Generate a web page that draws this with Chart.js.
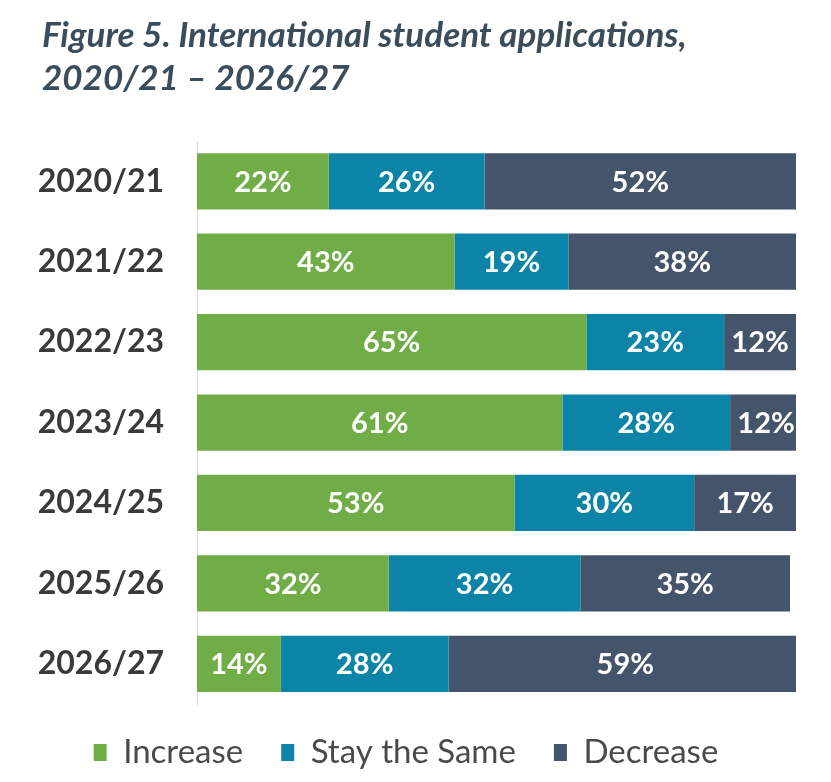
<!DOCTYPE html>
<html>
<head>
<meta charset="utf-8">
<script src="https://cdn.jsdelivr.net/npm/chart.js@4.4.1/dist/chart.umd.min.js"></script>
<style>
  html, body { margin: 0; padding: 0; background: #fff; }
  #wrap { width: 831px; height: 782px; }
</style>
</head>
<body>
<div id="wrap"><canvas id="appsChart"></canvas></div>
<script>
// academic years, top to bottom
const years = ['2020/21', '2021/22', '2022/23', '2023/24', '2024/25', '2025/26', '2026/27'];

// share of respondents (%)
const increase = [22, 43, 65, 61, 53, 32, 14];
const staySame = [26, 19, 23, 28, 30, 32, 28];
const decrease = [52, 38, 12, 12, 17, 35, 59];

const seriesNames = ['Increase', 'Stay the Same', 'Decrease'];
const seriesColors = ['#70ad47', '#0b84a8', '#44546a'];

const FONT = 'Lato, "Open Sans", sans-serif';

// white % labels in the middle of each segment
const barLabels = {
    id: 'barLabels',
    afterDatasetsDraw(chart) {
        const ctx = chart.ctx;
        ctx.save();
        ctx.fillStyle = '#ffffff';
        ctx.font = 'bold 29px ' + FONT;
        ctx.textAlign = 'center';
        ctx.textBaseline = 'middle';
        chart.data.datasets.forEach((ds, i) => {
            const meta = chart.getDatasetMeta(i);
            meta.data.forEach((bar, j) => {
                const p = bar.getCenterPoint();
                ctx.fillText(ds.data[j] + '%', p.x, p.y + 1);
            });
        });
        ctx.restore();
    }
};

// wide gaps between legend items, but keep the legend box short;
// nudge title and legend a little
const boxTweaks = {
    id: 'boxTweaks',
    afterInit(chart) {
        const fit = chart.legend.fit;
        chart.legend.fit = function () {
            fit.call(this);
            this.height = 78;
        };
    },
    afterLayout(chart) {
        const lg = chart.legend;
        lg.top -= 6;
        lg.left -= 10;
        lg.right -= 10;
        chart.titleBlock.left += 6;
        chart.titleBlock.right += 6;
    }
};

const ctx = document.getElementById('appsChart').getContext('2d');

new Chart(ctx, {
    type: 'bar',
    data: {
        labels: years,
        datasets: [increase, staySame, decrease].map((vals, i) => ({
            label: seriesNames[i],
            data: vals,
            backgroundColor: seriesColors[i],
            borderWidth: 0,
            barPercentage: 0.7,
            categoryPercentage: 1.0
        }))
    },
    options: {
        indexAxis: 'y',
        responsive: true,
        maintainAspectRatio: false,
        animation: false,
        layout: { padding: { left: 36, right: 35, bottom: 0 } },
        scales: {
            x: {
                stacked: true,
                min: 0,
                max: 100,
                display: false
            },
            y: {
                stacked: true,
                grid: { display: false },
                border: { display: true, color: '#d9d9d9', width: 1 },
                ticks: {
                    color: '#3a3a3a',
                    padding: 25,
                    font: { family: FONT, size: 32, weight: 'bold' }
                },
                afterFit(scale) { scale.width = 197 - 36; }
            }
        },
        plugins: {
            title: {
                display: true,
                align: 'start',
                text: ['Figure 5. International student applications,', '2020/21 \u2013 2026/27'],
                color: '#3b4d5a',
                font: { family: FONT, size: 35, weight: 'bold', style: 'italic', lineHeight: 1.23 },
                padding: { top: 14, bottom: 41 }
            },
            legend: {
                position: 'bottom',
                labels: {
                    color: '#4a4a4a',
                    boxWidth: 13,
                    boxHeight: 17,
                    padding: 38,
                    font: { family: FONT, size: 33 }
                }
            },
            tooltip: { enabled: false }
        }
    },
    plugins: [barLabels, boxTweaks]
});
</script>
</body>
</html>
